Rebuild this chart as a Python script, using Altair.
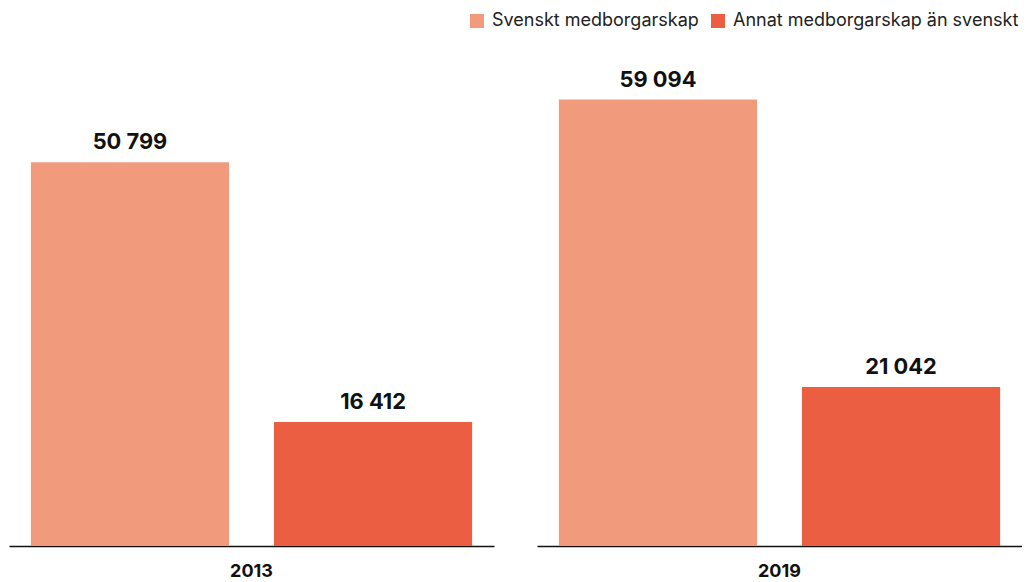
import altair as alt
import pandas as pd

years = ["2013", "2019"]
groups = ["Svenskt medborgarskap", "Annat medborgarskap än svenskt"]
values_2013 = [50799, 16412]
values_2019 = [59094, 21042]
colors = ["#F29B7C", "#EB5E41"]

rows = []
for yr, vals in zip(years, [values_2013, values_2019]):
    for g, v in zip(groups, vals):
        rows.append({"year": yr, "group": g, "value": v})
df = pd.DataFrame(rows)

base = alt.Chart(df).transform_calculate(
    label="replace(format(datum.value, ','), ',', ' ')"
)

xenc = alt.X(
    "group:N",
    sort=groups,
    title=None,
    scale=alt.Scale(paddingInner=0.185, paddingOuter=0.09),
    axis=alt.Axis(labels=False, ticks=False, grid=False, domainColor="#111111",
                  domainWidth=1.5, zindex=1),
)
yenc = alt.Y("value:Q", scale=alt.Scale(domain=[0, 65000]), axis=None)

bars = base.mark_bar().encode(
    x=xenc,
    y=yenc,
    color=alt.Color(
        "group:N",
        scale=alt.Scale(domain=groups, range=colors),
        legend=alt.Legend(
            orient="none", legendX=459, legendY=-43, direction="horizontal",
            title=None, symbolType="square", symbolSize=196, symbolStrokeWidth=0,
            labelFont="Inter", labelFontSize=18, labelColor="#222222",
            columnPadding=10, labelOffset=6, labelLimit=400,
        ),
    ),
)

text = base.mark_text(
    font="Inter", fontWeight="bold", fontSize=21.8, color="#111111",
    baseline="alphabetic", dy=-13,
).encode(x=alt.X("group:N", sort=groups), y=yenc, text="label:N")

chart = alt.layer(bars, text).properties(width=485, height=491).facet(
    column=alt.Column(
        "year:N",
        sort=years,
        title=None,
        header=alt.Header(labelOrient="bottom", labelFont="Inter", labelFontWeight="bold",
                          labelFontSize=18, labelColor="#111111", labelPadding=17),
    ),
    spacing=43,
).properties(
    padding={"left": 1, "top": 4, "right": 0, "bottom": 0}
).configure_view(strokeWidth=0)

chart.save("out.html", embed_options={"renderer": "svg", "actions": False})
